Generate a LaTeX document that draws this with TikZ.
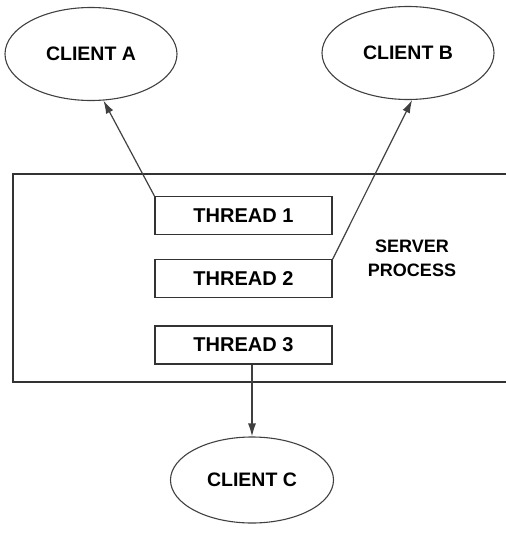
\documentclass[tikz,border=0pt]{standalone}
\usepackage{fontspec}
\setmainfont{Liberation Sans}
\usetikzlibrary{positioning, arrows.meta, shapes.geometric}

\tikzset{
    client/.style={draw=black!75, ellipse, line width=1.1pt, minimum width=172pt, minimum height=93pt, inner sep=0pt, font=\fontsize{19.5}{22}\selectfont\bfseries},
    thread/.style={draw=black!80, rectangle, line width=1.3pt, minimum width=177pt, minimum height=38pt, inner sep=0pt, font=\fontsize{20}{22}\selectfont\bfseries},
    link/.style={draw=black!75, line width=1.2pt, -{Latex[length=13pt, width=8pt]}}
}

\begin{document}
\begin{tikzpicture}[x=1pt, y=-1pt]

    \useasboundingbox (0,0) rectangle (506,533);

    % Clients around the server
    \node[client] (clientA) at (91,54) {CLIENT A};
    \node[client] (clientB) at (408,53) {CLIENT B};
    \node[client, minimum width=163pt, minimum height=86pt] (clientC) at (252,480) {CLIENT C};

    % Server process, open on the right
    \draw[draw=black!80, line width=1.3pt] (510,174) -- (13,174) -- (13,382) -- (510,382);
    \node[align=center, font=\fontsize{18}{24}\selectfont\bfseries] (server) at (412,258) {SERVER\\PROCESS};

    % Threads stacked inside the server
    \node[thread] (thread1) at (243.5,215.5) {THREAD 1};
    \node[thread, below=24pt of thread1] (thread2) {THREAD 2};
    \node[thread, below=27pt of thread2] (thread3) {THREAD 3};

    % Threads serving the clients
    \draw[link] (thread1.north west) -- (clientA.-75);
    \draw[link] (thread2.north east) -- (clientB.-85);
    \draw[link] (clientC.north |- thread3.south) -- (clientC.north);

\end{tikzpicture}
\end{document}
